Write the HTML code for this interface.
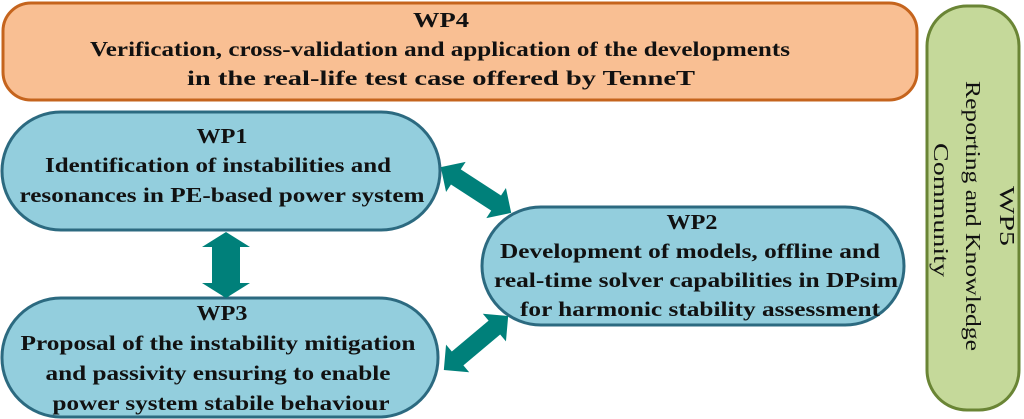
<!DOCTYPE html>
<html><head><meta charset="utf-8"><style>body{margin:0;background:#fff}svg{display:block}text{font-family:"Liberation Serif",serif;font-weight:bold;font-size:21px;fill:#111;text-anchor:middle}</style></head><body>
<svg width="1024" height="419" viewBox="0 0 1024 419">
<rect x="3" y="3" width="914" height="97" rx="28" fill="#f9bf93" stroke="#c5641d" stroke-width="3"/>
<text x="441" y="27" textLength="56" lengthAdjust="spacingAndGlyphs">WP4</text>
<text x="440" y="56" textLength="700" lengthAdjust="spacingAndGlyphs">Verification, cross-validation and application of the developments</text>
<text x="441" y="85" textLength="508" lengthAdjust="spacingAndGlyphs">in the real-life test case offered by TenneT</text>
<rect x="927" y="6" width="92" height="404" rx="40" fill="#c5d99a" stroke="#6a8535" stroke-width="3"/>
<g transform="translate(973,216) rotate(90)">
<text x="0" y="-27" style="font-weight:normal" textLength="60" lengthAdjust="spacingAndGlyphs">WP5</text>
<text x="0" y="7" style="font-weight:normal" textLength="270" lengthAdjust="spacingAndGlyphs">Reporting and Knowledge</text>
<text x="-6" y="39" style="font-weight:normal" textLength="134" lengthAdjust="spacingAndGlyphs">Community</text>
</g>
<rect x="2" y="112" width="438" height="118" rx="59" fill="#93cedd" stroke="#2c6a80" stroke-width="3"/>
<text x="222" y="143" textLength="51" lengthAdjust="spacingAndGlyphs">WP1</text>
<text x="218" y="172" textLength="346" lengthAdjust="spacingAndGlyphs">Identification of instabilities and</text>
<text x="222" y="202" textLength="405" lengthAdjust="spacingAndGlyphs">resonances in PE-based power system</text>
<rect x="2" y="298" width="436" height="119" rx="59" fill="#93cedd" stroke="#2c6a80" stroke-width="3"/>
<text x="222" y="320" textLength="51" lengthAdjust="spacingAndGlyphs">WP3</text>
<text x="218" y="350" textLength="395" lengthAdjust="spacingAndGlyphs">Proposal of the instability mitigation</text>
<text x="218" y="380" textLength="345" lengthAdjust="spacingAndGlyphs">and passivity ensuring to enable</text>
<text x="221" y="410" textLength="337" lengthAdjust="spacingAndGlyphs">power system stabile behaviour</text>
<rect x="482" y="207" width="422" height="118" rx="59" fill="#93cedd" stroke="#2c6a80" stroke-width="3"/>
<text x="692" y="229" textLength="51" lengthAdjust="spacingAndGlyphs">WP2</text>
<text x="690" y="258" textLength="380" lengthAdjust="spacingAndGlyphs">Development of models, offline and</text>
<text x="696" y="287" textLength="404" lengthAdjust="spacingAndGlyphs">real-time solver capabilities in DPsim</text>
<text x="700" y="316" textLength="360" lengthAdjust="spacingAndGlyphs">for harmonic stability assessment</text>
<polygon points="226,232 250,247 240,247 240,283 250,283 226,298 202,283 212,283 212,247 202,247" fill="#00807a"/>
<g transform="translate(476,190) rotate(33)"><polygon points="-42,0 -24,-18 -24,-9 24,-9 24,-18 42,0 24,18 24,9 -24,9 -24,18" fill="#00807a"/></g>
<g transform="translate(476,343) rotate(-40)"><polygon points="-42,0 -24,-18 -24,-9 24,-9 24,-18 42,0 24,18 24,9 -24,9 -24,18" fill="#00807a"/></g>
</svg></body></html>
